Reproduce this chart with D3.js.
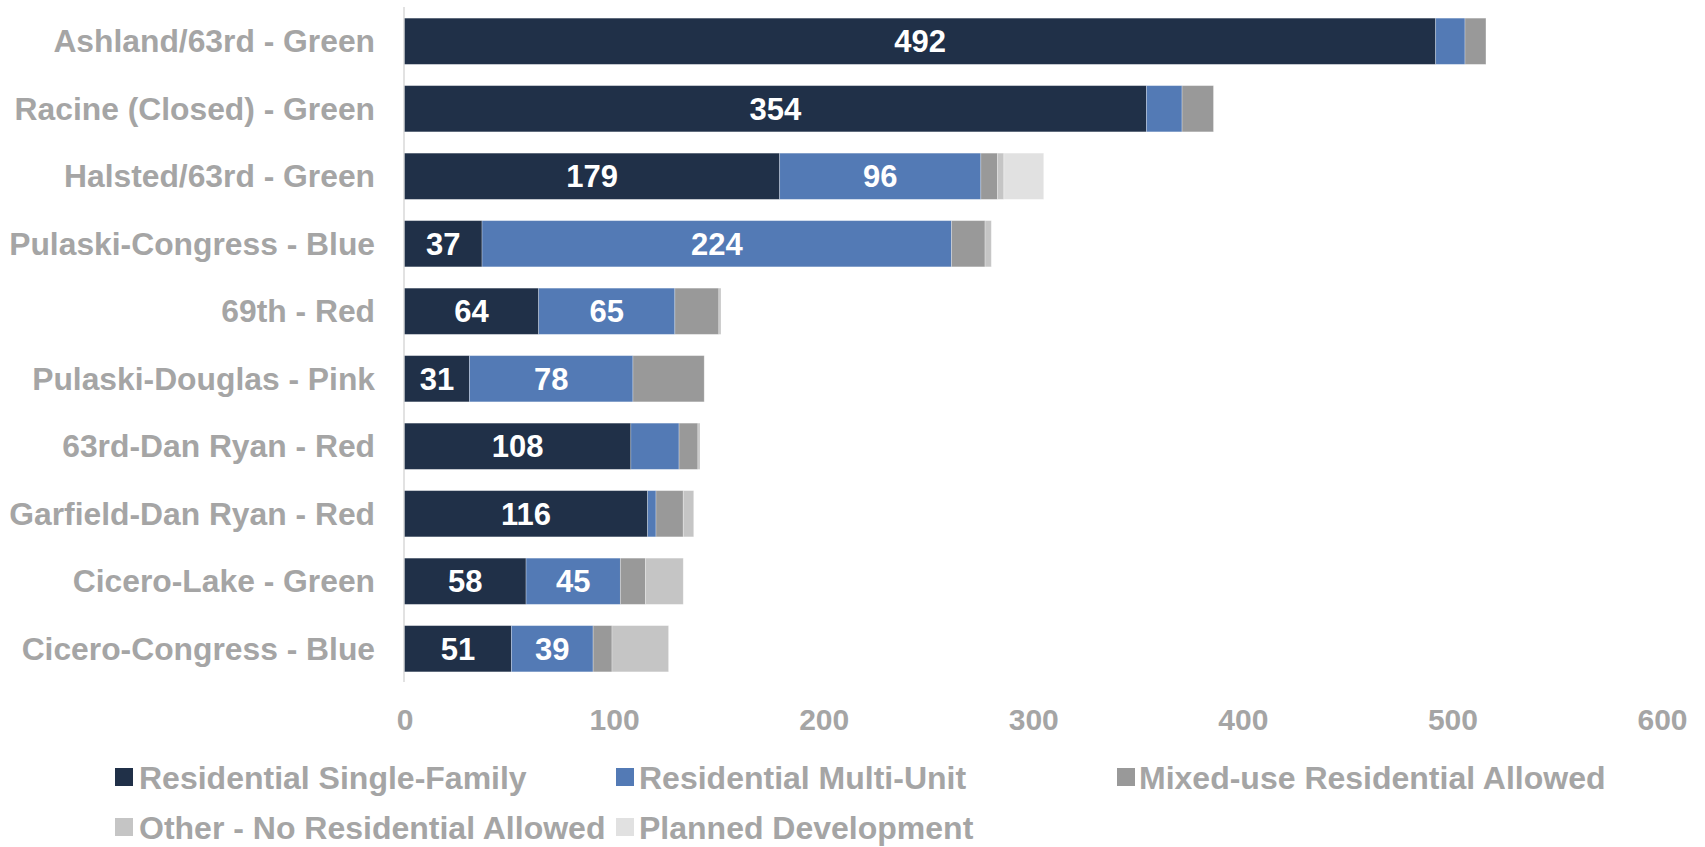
<!DOCTYPE html>
<html>
<head>
<meta charset="utf-8">
<script src="https://cdn.jsdelivr.net/npm/d3@7"></script>
<style>
  html, body { margin: 0; padding: 0; background: #ffffff; }
  svg { display: block; font-family: "Liberation Sans", Arial, sans-serif; font-weight: bold; }
</style>
</head>
<body>
<svg id="chart" width="1705" height="847"></svg>
<script>
const categories = [
  "Ashland/63rd - Green",
  "Racine (Closed) - Green",
  "Halsted/63rd - Green",
  "Pulaski-Congress - Blue",
  "69th - Red",
  "Pulaski-Douglas - Pink",
  "63rd-Dan Ryan - Red",
  "Garfield-Dan Ryan - Red",
  "Cicero-Lake - Green",
  "Cicero-Congress - Blue"
];
const seriesNames = [
  "Residential Single-Family",
  "Residential Multi-Unit",
  "Mixed-use Residential Allowed",
  "Other - No Residential Allowed",
  "Planned Development"
];
const singleFamily = [492, 354, 179, 37, 64, 31, 108, 116, 58, 51];
const multiUnit    = [14, 17, 96, 224, 65, 78, 23, 4, 45, 39];
const mixedUse     = [10, 15, 8, 16, 21, 34, 9, 13, 12, 9];
const otherNoRes   = [0, 0, 3, 3, 1, 0, 1, 5, 18, 27];
const planned      = [0, 0, 19, 0, 0, 0, 0, 0, 0, 0];
const xTicks = [0, 100, 200, 300, 400, 500, 600];
const colors = ["#203048", "#537ab5", "#999999", "#c5c5c5", "#e1e1e1"];
const labeledSeries = [0, 1];
const labelMin = 30;

const seriesValues = [singleFamily, multiUnit, mixedUse, otherNoRes, planned];
const rows = categories.map((c, i) => {
  const r = { cat: c };
  seriesNames.forEach((s, k) => r[s] = seriesValues[k][i]);
  return r;
});

const svg = d3.select("#chart");
const textColor = "#a5a5a5";

const x = d3.scaleLinear().domain([0, 600]).range([404.5, 1662]);
const y = d3.scaleBand().domain(categories).range([7.5, 682.5]).paddingInner(0.315).paddingOuter(0.1575);

const stack = d3.stack().keys(seriesNames);
const stacked = stack(rows);

// axis line
svg.append("line")
  .attr("x1", x(0) - 0.5).attr("x2", x(0) - 0.5)
  .attr("y1", 7).attr("y2", 682)
  .attr("stroke", "#d9d9d9").attr("stroke-width", 1.5);

const layers = svg.append("g").selectAll("g")
  .data(stacked).join("g")
  .attr("fill", (d, i) => colors[i]);

layers.selectAll("rect")
  .data(d => d.map(v => ({ v, key: d.key })))
  .join("rect")
  .attr("x", d => x(d.v[0]))
  .attr("y", d => y(d.v.data.cat))
  .attr("width", d => Math.max(0, x(d.v[1]) - x(d.v[0])))
  .attr("height", y.bandwidth())
  .attr("stroke", "rgba(255,255,255,0.35)")
  .attr("stroke-width", 0.8);

// value labels
const labelG = svg.append("g");
stacked.forEach((layer, k) => {
  if (!labeledSeries.includes(k)) return;
  layer.forEach(v => {
    const val = v[1] - v[0];
    if (val < labelMin) return;
    labelG.append("text")
      .attr("x", (x(v[0]) + x(v[1])) / 2)
      .attr("y", y(v.data.cat) + y.bandwidth() / 2)
      .attr("dy", "0.35em")
      .attr("text-anchor", "middle")
      .attr("fill", "#ffffff")
      .attr("font-size", 31)
      .text(val);
  });
});

// category labels
const yAxis = d3.axisLeft(y).tickSize(0).tickPadding(0);
const yg = svg.append("g").attr("transform", "translate(375,0)").call(yAxis);
yg.select(".domain").remove();
yg.selectAll("text")
  .attr("fill", textColor)
  .attr("font-size", 31.8)
  .attr("font-family", "'Liberation Sans', Arial, sans-serif")
  .attr("font-weight", "bold")
  .attr("dy", "0.35em");

// x tick labels
const xAxis = d3.axisBottom(x).tickValues(xTicks).tickSize(0).tickPadding(0);
const xg = svg.append("g").attr("transform", "translate(0,709)").call(xAxis);
xg.select(".domain").remove();
xg.selectAll("text")
  .attr("fill", textColor)
  .attr("font-size", 30)
  .attr("font-family", "'Liberation Sans', Arial, sans-serif")
  .attr("font-weight", "bold")
  .attr("dy", "0.71em");

// legend
const legendPos = [
  { sx: 115, tx: 139, by: 789 },
  { sx: 616, tx: 639, by: 789 },
  { sx: 1117, tx: 1139, by: 789 },
  { sx: 115, tx: 139, by: 839 },
  { sx: 616, tx: 639, by: 839 }
];
const lg = svg.append("g");
seriesNames.forEach((name, i) => {
  const p = legendPos[i];
  lg.append("rect")
    .attr("x", p.sx).attr("y", p.by - 21)
    .attr("width", 18).attr("height", 18)
    .attr("fill", colors[i]);
  lg.append("text")
    .attr("x", p.tx).attr("y", p.by)
    .attr("fill", textColor)
    .attr("font-size", 32)
    .text(name);
});
</script>
</body>
</html>
